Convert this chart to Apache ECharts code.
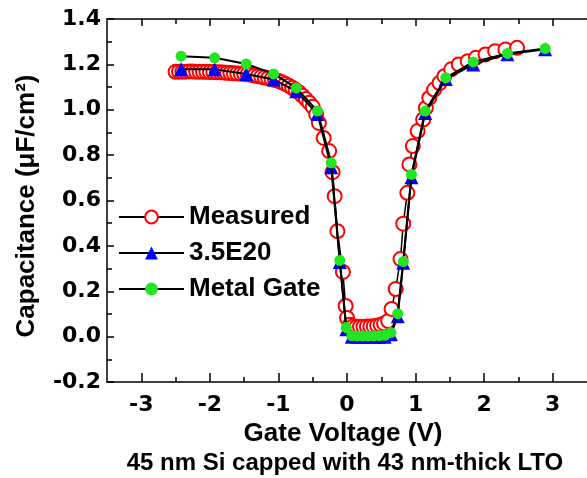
<!DOCTYPE html>
<html><head><meta charset="utf-8">
<script src="https://cdn.jsdelivr.net/npm/echarts@6/dist/echarts.min.js"></script>
<style>html,body{margin:0;padding:0;background:#fff}#c{width:587px;height:478px}</style>
</head><body><div id="c"></div>
<script>
// Measured
const measV = [-2.50,-2.45,-2.40,-2.35,-2.30,-2.25,-2.20,-2.15,-2.10,-2.05,-2.00,-1.95,-1.90,-1.85,-1.80,-1.75,-1.70,-1.65,-1.60,-1.55,-1.50,-1.45,-1.40,-1.35,-1.30,-1.25,-1.20,-1.15,-1.10,-1.05,-1.00,-0.95,-0.90,-0.85,-0.80,-0.75,-0.70,-0.65,-0.60,-0.55,-0.50,-0.45,-0.41,-0.34,-0.26,-0.21,-0.18,-0.14,-0.06,-0.02,0.00,0.04,0.09,0.14,0.19,0.24,0.29,0.34,0.39,0.44,0.49,0.54,0.60,0.65,0.71,0.78,0.82,0.88,0.91,0.96,1.03,1.11,1.15,1.20,1.27,1.35,1.42,1.52,1.63,1.76,1.88,2.02,2.16,2.31,2.48];
const measC = [1.167,1.168,1.168,1.168,1.169,1.169,1.168,1.168,1.167,1.167,1.166,1.166,1.165,1.165,1.164,1.163,1.162,1.161,1.160,1.159,1.158,1.156,1.154,1.151,1.148,1.145,1.142,1.139,1.135,1.131,1.127,1.121,1.114,1.106,1.097,1.088,1.076,1.062,1.047,1.031,1.013,0.980,0.942,0.876,0.818,0.725,0.619,0.465,0.285,0.135,0.082,0.052,0.046,0.044,0.044,0.044,0.045,0.045,0.046,0.048,0.052,0.058,0.069,0.122,0.210,0.342,0.498,0.634,0.759,0.840,0.906,0.957,1.008,1.052,1.089,1.118,1.148,1.178,1.200,1.214,1.229,1.244,1.258,1.266,1.273];
// Simulations
const simV = [-2.42,-1.93,-1.47,-1.07,-0.74,-0.43,-0.23,-0.105,-0.01,0.07,0.15,0.23,0.31,0.39,0.47,0.55,0.64,0.74,0.82,0.94,1.14,1.44,1.84,2.34,2.89];
const dopedC = [1.178,1.178,1.158,1.133,1.082,0.981,0.747,0.329,0.033,0.0,0.0,0.0,0.0,0.0,0.0,0.0,0.01,0.09,0.326,0.703,0.986,1.135,1.200,1.245,1.267];
const metalC = [1.236,1.229,1.202,1.158,1.096,0.994,0.766,0.336,0.040,0.004,0.003,0.003,0.003,0.003,0.004,0.006,0.018,0.101,0.331,0.715,0.994,1.141,1.211,1.248,1.270];
const xMajor = [-3,-2,-1,0,1,2,3];
const xMinor = [-2.5,-1.5,-0.5,0.5,1.5,2.5];
const names = ['Measured','3.5E20','Metal Gate'];

const zip = (a,b) => a.map((v,i)=>[v,b[i]]);
const F = "'Liberation Sans', Arial, sans-serif";
const FT = "'DejaVu Sans', sans-serif";
const blk = {color:'#000',width:1.5};
function xAx(pos, vals, len, line, labels){
  return {type:'value',min:-3.5,max:3.5,position:pos,
    axisLine:{show:line,onZero:false,lineStyle:blk},
    axisTick:{show:true,inside:true,length:len,customValues:vals,lineStyle:blk},
    axisLabel:labels?{customValues:xMajor,margin:12,color:'#000',fontFamily:FT,fontWeight:'bold',fontSize:22,formatter:v=>String(v)}:{show:false},
    splitLine:{show:false}};
}
const chart = echarts.init(document.getElementById('c'));
chart.setOption({
  animation:false,
  grid:{left:107,right:-6,top:19,bottom:96},
  xAxis:[
    xAx('bottom',xMajor,9,true,true),
    xAx('bottom',xMinor,5,false,false),
    xAx('top',xMajor,7,true,false),
    xAx('top',xMinor,5,false,false)
  ],
  yAxis:{
    type:'value',min:-0.2,max:1.4,interval:0.2,
    axisLine:{show:true,onZero:false,lineStyle:blk},
    axisTick:{show:true,inside:true,length:7,lineStyle:blk},
    minorTick:{show:true,splitNumber:2,length:5,lineStyle:blk},
    axisLabel:{margin:6,color:'#000',fontFamily:FT,fontWeight:'bold',fontSize:22,formatter:v=>v.toFixed(1)},
    splitLine:{show:false}
  },
  legend:{
    orient:'vertical',left:113,top:199,itemWidth:65,itemHeight:16,itemGap:10,
    data:names,
    textStyle:{color:'#000',fontFamily:F,fontWeight:'bold',fontSize:26}
  },
  graphic:[
    {type:'text',x:343,y:434,style:{text:'Gate Voltage (V)',fill:'#000',font:"bold 26px 'Liberation Sans', Arial",align:'center',verticalAlign:'middle'}},
    {type:'text',x:345,y:463,style:{text:'45 nm Si capped with 43 nm-thick LTO',fill:'#000',font:"bold 24px 'Liberation Sans', Arial",align:'center',verticalAlign:'middle'}},
    {type:'text',x:27,y:206,rotation:Math.PI/2,style:{text:'Capacitance (μF/cm²)',fill:'#000',font:"bold 26px 'Liberation Sans', Arial",align:'center',verticalAlign:'middle'}}
  ],
  series:[
    {name:names[0],type:'line',data:zip(measV,measC),symbol:'circle',symbolSize:14,
     lineStyle:{color:'#000',width:1.5},itemStyle:{color:'#fff',borderColor:'#ff0000',borderWidth:2},z:2},
    {name:names[1],type:'line',data:zip(simV,dopedC),symbol:'triangle',symbolSize:14,
     lineStyle:{color:'#000',width:2},itemStyle:{color:'#0000ff'},z:3},
    {name:names[2],type:'line',data:zip(simV,metalC),symbol:'circle',symbolSize:11,
     lineStyle:{color:'#000',width:2},itemStyle:{color:'#22e622'},z:4}
  ]
});
</script></body></html>
